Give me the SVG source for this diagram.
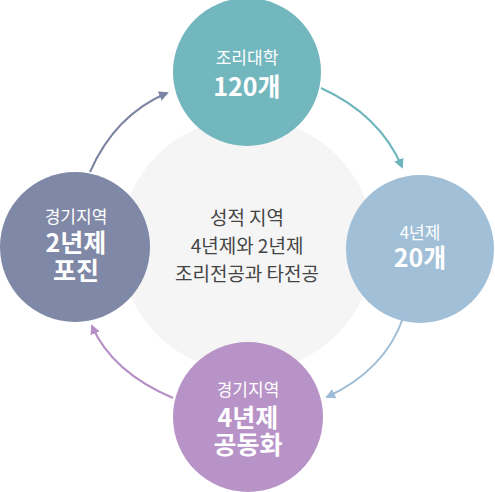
<svg xmlns="http://www.w3.org/2000/svg" width="495" height="492" viewBox="0 0 495 492">
<style>
text{font-family:"Noto Sans CJK KR","Noto Sans",sans-serif;text-anchor:middle;fill:#fff}
.s{font-size:17px}
.b{font-size:25px;font-weight:700}
.c{font-size:19px;fill:#444}
.a{fill:none;stroke-width:2}
</style>
<defs>
<marker id="m1" viewBox="0 0 10 10" refX="8" refY="5" markerWidth="5" markerHeight="5" orient="auto" markerUnits="strokeWidth"><path d="M0 0L10 5L0 10z" fill="#7b84a3"/></marker>
<marker id="m2" viewBox="0 0 10 10" refX="8" refY="5" markerWidth="5" markerHeight="5" orient="auto" markerUnits="strokeWidth"><path d="M0 0L10 5L0 10z" fill="#6db5bc"/></marker>
<marker id="m3" viewBox="0 0 10 10" refX="8" refY="5" markerWidth="5" markerHeight="5" orient="auto" markerUnits="strokeWidth"><path d="M0 0L10 5L0 10z" fill="#9ebdd6"/></marker>
<marker id="m4" viewBox="0 0 10 10" refX="8" refY="5" markerWidth="5" markerHeight="5" orient="auto" markerUnits="strokeWidth"><path d="M0 0L10 5L0 10z" fill="#b68fc6"/></marker>
</defs>
<g id="center">
<circle cx="247" cy="245" r="127" fill="#f5f5f5"/>
<text class="c" x="247" y="225">성적 지역</text>
<text class="c" x="247" y="253">4년제와 2년제</text>
<text class="c" x="247" y="281">조리전공과 타전공</text>
</g>
<g id="connectors">
<path class="a" stroke="#7b84a3" d="M90 172Q115 115 167 93" marker-end="url(#m1)"/>
<path class="a" stroke="#6db5bc" d="M321 88Q380 115 402 167" marker-end="url(#m2)"/>
<path class="a" stroke="#9ebdd6" d="M403 318Q385 370 327 397" marker-end="url(#m3)"/>
<path class="a" stroke="#b68fc6" d="M173 398Q112 372 92 326" marker-end="url(#m4)"/>
</g>
<g id="top">
<circle cx="247" cy="72" r="74" fill="#6db5bc" fill-opacity="0.97"/>
<text class="s" x="247" y="64">조리대학</text>
<text class="b" x="247" y="96">120개</text>
</g>
<g id="right">
<circle cx="420" cy="249" r="74" fill="#9ebdd6" fill-opacity="0.97"/>
<text class="s" x="420" y="239">4년제</text>
<text class="b" x="420" y="267">20개</text>
</g>
<g id="bottom">
<circle cx="248" cy="417" r="75" fill="#b68fc6" fill-opacity="0.97"/>
<text class="s" x="248" y="396">경기지역</text>
<text class="b" x="248" y="427">4년제</text>
<text class="b" x="248" y="454">공동화</text>
</g>
<g id="left">
<circle cx="75" cy="247" r="75" fill="#7b84a3" fill-opacity="0.97"/>
<text class="s" x="76" y="223">경기지역</text>
<text class="b" x="76" y="252">2년제</text>
<text class="b" x="76" y="280">포진</text>
</g>
</svg>
